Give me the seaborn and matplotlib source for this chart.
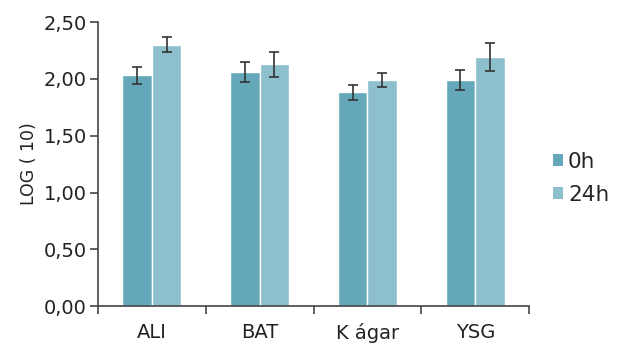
import matplotlib
matplotlib.use("Agg")
import matplotlib.pyplot as plt
import seaborn as sns
import pandas as pd
import numpy as np

categories = ["ALI", "BAT", "K ágar", "YSG"]
series = ["0h", "24h"]
vals_0h = [2.03, 2.06, 1.88, 1.99]
vals_24h = [2.30, 2.13, 1.99, 2.19]
err_0h = [0.075, 0.09, 0.065, 0.09]
err_24h = [0.065, 0.11, 0.06, 0.125]
colors = ["#64a8ba", "#8dbfcc"]

df = pd.DataFrame({
    "cat": categories * 2,
    "series": [series[0]] * 4 + [series[1]] * 4,
    "val": vals_0h + vals_24h,
})

sns.set_style("white")
plt.rcParams["font.family"] = ["DejaVu Sans"]

fig = plt.figure(figsize=(6.19, 3.44), dpi=100)
ax = fig.add_axes([0.158, 0.11, 0.697, 0.826])
sns.barplot(data=df, x="cat", y="val", hue="series", palette=colors, saturation=1,
            width=0.55, edgecolor="white", linewidth=1, errorbar=None, ax=ax)

errs = err_0h + err_24h
for p, e in zip(ax.patches[:8], errs):
    cx = p.get_x() + p.get_width() / 2
    ax.errorbar(cx, p.get_height(), yerr=e, fmt="none", ecolor="#333333",
                elinewidth=1.2, capsize=3.5, capthick=1.2)

ax.set_ylim(0, 2.5)
ax.set_xlim(-0.5, 3.5)
ticks = np.arange(0, 2.51, 0.5)
ax.set_yticks(ticks)
ax.set_yticklabels([f"{v:.2f}".replace(".", ",") for v in ticks], fontsize=14, color="#222222")
ax.set_xticks(range(4))
ax.set_xticklabels(categories, fontsize=14, color="#222222")
ax.tick_params(axis="x", which="major", length=0, pad=12, bottom=False)
ax.set_xticks([-0.5, 0.5, 1.5, 2.5, 3.5], minor=True)
ax.tick_params(axis="x", which="minor", length=6, width=1.2, color="#444444",
               direction="out", bottom=True)
ax.tick_params(axis="y", length=6, width=1.2, color="#444444", direction="out", pad=2, left=True)
ax.set_xlabel("")
ax.set_ylabel("LOG ( 10)", fontsize=12.5, color="#222222", labelpad=4)
for s in ["top", "right"]:
    ax.spines[s].set_visible(False)
for s in ["left", "bottom"]:
    ax.spines[s].set_color("#444444")
    ax.spines[s].set_linewidth(1.2)

leg = ax.legend(loc="center left", bbox_to_anchor=(1.03, 0.45), frameon=False,
                fontsize=15.5, handlelength=0.45, handleheight=0.45, handletextpad=0.25,
                labelspacing=0.6, borderpad=0)
for h in leg.legend_handles:
    h.set_edgecolor("none")

fig.savefig("out.png", dpi=100)
